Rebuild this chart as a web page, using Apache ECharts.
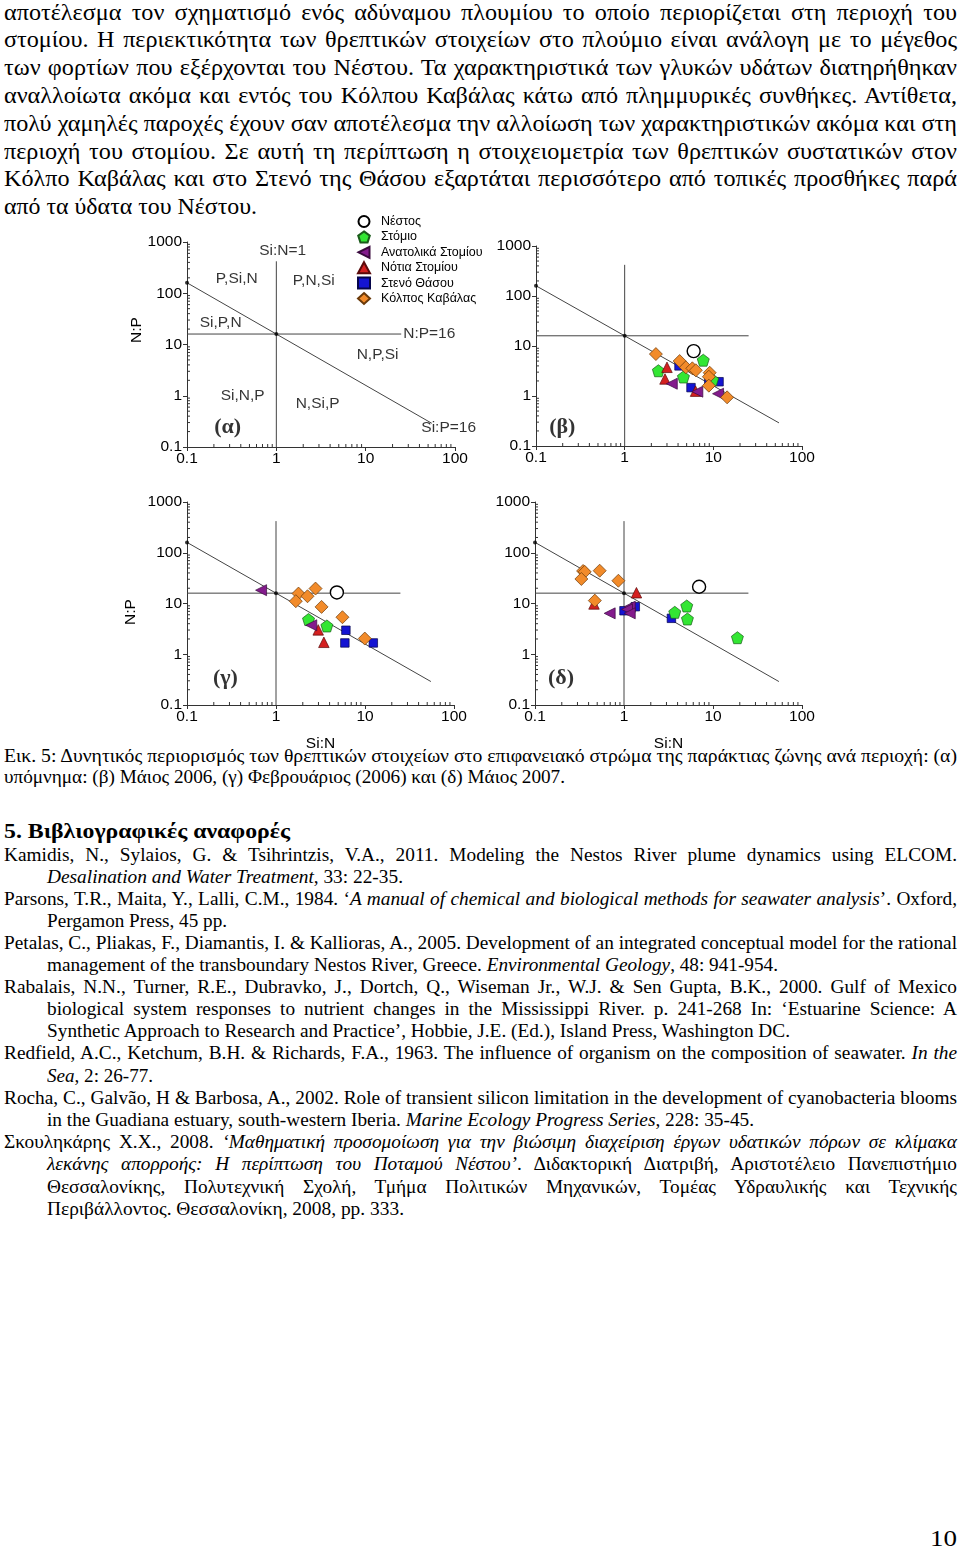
<!DOCTYPE html>
<html>
<head>
<meta charset="utf-8">
<script src="https://cdn.jsdelivr.net/npm/echarts@6/dist/echarts.min.js"></script>
<style>
html,body{margin:0;padding:0;background:#fff;width:960px;height:1551px;overflow:hidden;}
#txt{position:absolute;left:0;top:0;width:960px;height:1551px;z-index:1;}
#chart{position:absolute;left:0;top:0;width:960px;height:1551px;z-index:2;}
.ln{position:absolute;white-space:nowrap;transform-origin:0 0;color:#000;font-family:"Liberation Serif","Times New Roman",serif;line-height:1;}
.p{font-size:23px;}
.c{font-size:18.5px;}
.h{font-size:22px;font-weight:bold;}
.r{font-size:19.5px;}
.pg{font-size:24px;}
</style>
</head>
<body>
<div id="txt"></div>
<div id="chart"></div>
<script>
// ---------------- DATA ----------------
const seriesNames = ['Νέστος','Στόμιο','Ανατολικά Στομίου','Νότια Στομίου','Στενό Θάσου','Κόλπος Καβάλας'];
const xTickLabels = ['0.1','1','10','100'];
const yTickLabels = ['0.1','1','10','100','1000'];

// Panel (β) Μάιος 2006  [Si:N, N:P]
const beta_nestos = [[6.0, 7.9]];
const beta_stomio = [[7.7, 5.2],[2.4, 3.2],[4.6, 2.4],[9.8, 2.1]];
const beta_east   = [[3.4, 1.76],[6.6, 1.22],[11.3, 1.11]];
const beta_south  = [[3.0, 3.75],[2.85, 2.19],[6.3, 1.25]];
const beta_thasos = [[4.1, 4.0],[8.9, 2.09],[11.6, 1.93],[5.6, 1.47]];
const beta_kavala = [[2.25, 6.9],[4.17, 5.0],[4.9, 3.75],[5.8, 3.58],[6.35, 3.27],[9.1, 2.92],[8.9, 2.43],[8.9, 1.61],[14.3, 0.94]];

// Panel (γ) Φεβρουάριος 2006
const gamma_nestos = [[4.83, 16.5]];
const gamma_stomio = [[2.32, 4.83],[3.73, 3.61]];
const gamma_east   = [[0.68, 18.3],[2.49, 3.73]];
const gamma_south  = [[2.98, 3.02],[3.45, 1.72]];
const gamma_thasos = [[6.1, 2.97],[5.94, 1.67],[12.4, 1.67]];
const gamma_kavala = [[1.79, 15.7],[2.26, 13.9],[2.78, 19.7],[1.67, 11.1],[3.25, 8.57],[5.58, 5.37],[9.95, 2.04]];

// Panel (δ) Μάιος 2007
const delta_nestos = [[6.98, 21.4]];
const delta_stomio = [[5.07, 8.93],[3.72, 6.7],[5.16, 4.95],[18.8, 2.12]];
const delta_east   = [[1.16, 8.65],[1.08, 7.67],[1.16, 6.4],[0.69, 6.4]];
const delta_south  = [[1.38, 16.3],[0.46, 9.8]];
const delta_thasos = [[1.34, 8.65],[1.0, 7.2],[3.41, 5.1]];
const delta_kavala = [[0.347, 43.7],[0.362, 42],[0.533, 44.3],[0.332, 30.4],[0.865, 28.1],[0.47, 11.4]];

// Reference lines (Redfield ratios)
const refVertical   = [[1, 0.1],[1, 420]];      // Si:N = 1
const refHorizontal = [[0.1, 16],[25, 16]];     // N:P = 16
const refDiagonal   = [[0.1, 160],[55, 0.29]];  // Si:P = 16
const refDots       = [[1, 16],[0.1, 160]];

// Region labels for panel (α)
const regionLabels    = ['Si:N=1','P,Si,N','P,N,Si','Si,P,N','N,P,Si','Si,N,P','N,Si,P','Si:P=16'];
const regionLabelAt   = [[1.18, 665],[0.36, 196],[2.62, 172],[0.238, 27],[13.6, 6.4],[0.42, 1.0],[2.9, 0.70],[85, 0.236]];
const npLabel = 'N:P=16';
const npLabelAt = [25, 16];

const panelLabels = ['(α)','(β)','(γ)','(δ)'];
const panelLabelAt = [[0.285, 0.247],[0.198, 0.24],[0.27, 0.34],[0.196, 0.34]];

// minor log ticks
const xMinor = [0.2,0.3,0.4,0.5,0.6,0.7,0.8,0.9,2,3,4,5,6,7,8,9,20,30,40,50,60,70,80,90];
const yMinor = xMinor.concat([200,300,400,500,600,700,800,900]);

// ---------------- TEXT ----------------
const textLines = [
 ['p','αποτέλεσμα τον σχηματισμό ενός αδύναμου πλουμίου το οποίο περιορίζεται στη περιοχή του',14,4,957,1],
 ['p','στομίου. Η περιεκτικότητα των θρεπτικών στοιχείων στο πλούμιο είναι ανάλογη με το μέγεθος',41,4,957,1],
 ['p','των φορτίων που εξέρχονται του Νέστου. Τα χαρακτηριστικά των γλυκών υδάτων διατηρήθηκαν',69,4,957,1],
 ['p','αναλλοίωτα ακόμα και εντός του Κόλπου Καβάλας κάτω από πλημμυρικές συνθήκες. Αντίθετα,',97,4,957,1],
 ['p','πολύ χαμηλές παροχές έχουν σαν αποτέλεσμα την αλλοίωση των χαρακτηριστικών ακόμα και στη',125,4,957,1],
 ['p','περιοχή του στομίου. Σε αυτή τη περίπτωση η στοιχειομετρία των θρεπτικών συστατικών στον',153,4,957,1],
 ['p','Κόλπο Καβάλας και στο Στενό της Θάσου εξαρτάται περισσότερο από τοπικές προσθήκες παρά',180,4,957,1],
 ['p','από τα ύδατα του Νέστου.',208,4,257,0],
 ['c','Εικ. 5: Δυνητικός περιορισμός των θρεπτικών στοιχείων στο επιφανειακό στρώμα της παράκτιας ζώνης ανά περιοχή: (α)',757,4,957,1],
 ['c','υπόμνημα: (β) Μάιος 2006, (γ) Φεβρουάριος (2006) και (δ) Μάιος 2007.',778,4,565,0],
 ['h','5. Βιβλιογραφικές αναφορές',832,4,290,0],
 ['r','Kamidis, N., Sylaios, G. &amp; Tsihrintzis, V.A., 2011. Modeling the Nestos River plume dynamics using ELCOM.',856,4,957,1],
 ['r','<i>Desalination and Water Treatment</i>, 33: 22-35.',878,47,403,0],
 ['r','Parsons, T.R., Maita, Y., Lalli, C.M., 1984. ‘<i>A manual of chemical and biological methods for seawater analysis</i>’. Oxford,',900,4,957,1],
 ['r','Pergamon Press, 45 pp.',922,47,227,0],
 ['r','Petalas, C., Pliakas, F., Diamantis, I. &amp; Kallioras, A., 2005. Development of an integrated conceptual model for the rational',944,4,957,1],
 ['r','management of the transboundary Nestos River, Greece. <i>Environmental Geology</i>, 48: 941-954.',966,47,778,0],
 ['r','Rabalais, N.N., Turner, R.E., Dubravko, J., Dortch, Q., Wiseman Jr., W.J. &amp; Sen Gupta, B.K., 2000. Gulf of Mexico',988,4,957,1],
 ['r','biological system responses to nutrient changes in the Mississippi River. p. 241-268 In: ‘Estuarine Science: A',1010,47,957,1],
 ['r','Synthetic Approach to Research and Practice’, Hobbie, J.E. (Ed.), Island Press, Washington DC.',1032,47,790,0],
 ['r','Redfield, A.C., Ketchum, B.H. &amp; Richards, F.A., 1963. The influence of organism on the composition of seawater. <i>In the</i>',1054,4,957,1],
 ['r','<i>Sea</i>, 2: 26-77.',1077,47,153,0],
 ['r','Rocha, C., Galvão, H &amp; Barbosa, A., 2002. Role of transient silicon limitation in the development of cyanobacteria blooms',1099,4,957,1],
 ['r','in the Guadiana estuary, south-western Iberia. <i>Marine Ecology Progress Series</i>, 228: 35-45.',1121,47,754,0],
 ['r','Σκουληκάρης Χ.Χ., 2008. <i>‘Μαθηματική προσομοίωση για την βιώσιμη διαχείριση έργων υδατικών πόρων σε κλίμακα</i>',1143,4,957,1],
 ['r','<i>λεκάνης απορροής: Η περίπτωση του Ποταμού Νέστου’</i>. Διδακτορική Διατριβή, Αριστοτέλειο Πανεπιστήμιο',1165,47,957,1],
 ['r','Θεσσαλονίκης, Πολυτεχνική Σχολή, Τμήμα Πολιτικών Μηχανικών, Τομέας Υδραυλικής και Τεχνικής',1188,47,957,1],
 ['r','Περιβάλλοντος. Θεσσαλονίκη, 2008, pp. 333.',1210,47,404,0],
 ['pg','10',1539,930,957,0]
];
const fsMap = {p:23, c:18.5, h:22, r:19.5, pg:24};
const txt = document.getElementById('txt');
const els = textLines.map(function(L){
  const d = document.createElement('div');
  d.className = 'ln ' + L[0];
  d.innerHTML = L[1];
  const fs = fsMap[L[0]];
  d.style.left = L[3] + 'px';
  d.style.top = (L[2] - 0.56*fs) + 'px';
  txt.appendChild(d);
  return {d:d, L:L, w:d.getBoundingClientRect().width};
});
// per block horizontal scale: the tightest justified line fits with normal spacing
const blockScale = {};
els.forEach(function(e){
  if (!e.L[5]) return;
  const s = (e.L[4] - e.L[3]) / e.w;
  const k = e.L[0];
  blockScale[k] = (k in blockScale) ? Math.min(blockScale[k], s) : s;
});
els.forEach(function(e){
  const target = e.L[4] - e.L[3];
  if (e.L[5]) {
    const s = blockScale[e.L[0]];
    e.d.style.transform = 'scaleX(' + s + ')';
    const n = (e.d.textContent.match(/ /g) || []).length;
    const extra = target - e.w * s;
    if (n && extra > 0) e.d.style.wordSpacing = (extra / n / s) + 'px';
  } else {
    e.d.style.transform = 'scaleX(' + (target / e.w) + ')';
  }
});

// ---------------- CHART ----------------
const chart = echarts.init(document.getElementById('chart'), null, {renderer:'canvas'});
const SANS = '"Liberation Sans", Arial, sans-serif';
const AX = '#333';

const gridBoxes = [
  {left:187, top:242, width:268, height:205},
  {left:536, top:246, width:266, height:200},
  {left:187, top:502, width:267, height:203},
  {left:535, top:502, width:267, height:203}
];
const fmt = function(v){ return String(+(+v).toPrecision(3)); };

const pentagon = 'path://M0,-1 L0.951,-0.309 L0.588,0.809 L-0.588,0.809 L-0.951,-0.309 Z';
const leftTri = 'path://M10,0 L10,10 L0,5 Z';
const styles = {
  'Νέστος':            {symbol:'circle',   size:13, rot:0,  color:'#ffffff', border:'#000', bw:1.4},
  'Στόμιο':            {symbol:pentagon,   size:12, rot:0,  color:'#33e633', border:'#1a5a1a', bw:0.7},
  'Ανατολικά Στομίου': {symbol:leftTri,    size:11, rot:0,  color:'#831b8c', border:'#3a0a3e', bw:0.7},
  'Νότια Στομίου':     {symbol:'triangle', size:10.5, rot:0, color:'#d42020', border:'#5a0a0a', bw:0.7},
  'Στενό Θάσου':       {symbol:'rect',     size:8.5, rot:0, color:'#1414d2', border:'#06064a', bw:0.7},
  'Κόλπος Καβάλας':    {symbol:'diamond',  size:13, rot:0,  color:'#f28b2a', border:'#6a3a0a', bw:0.7}
};

const panelData = [
  null,
  [beta_nestos, beta_stomio, beta_east, beta_south, beta_thasos, beta_kavala],
  [gamma_nestos, gamma_stomio, gamma_east, gamma_south, gamma_thasos, gamma_kavala],
  [delta_nestos, delta_stomio, delta_east, delta_south, delta_thasos, delta_kavala]
];

const grid = [], xAxis = [], yAxis = [], series = [];
gridBoxes.forEach(function(g, i){
  grid.push(Object.assign({containLabel:false, outerBoundsMode:'none'}, g));
  xAxis.push({
    type:'log', logBase:10, min:0.1, max:100, splitNumber:3, gridIndex:i,
    axisLine:{show:true, lineStyle:{color:AX, width:1}},
    axisTick:{show:true, length:4, lineStyle:{color:AX}},
    axisLabel:{show:true, color:'#000', fontSize:15.5, fontFamily:SANS, margin:4,
      formatter:function(v){ const s = fmt(v); return xTickLabels.indexOf(s) >= 0 ? s : ''; },
      showMinLabel:true, showMaxLabel:true},
    splitLine:{show:false},
    name: i >= 2 ? 'Si:N' : '', nameLocation:'middle', nameGap:31,
    nameTextStyle:{color:'#000', fontSize:15.5, fontFamily:SANS}
  });
  yAxis.push({
    type:'log', logBase:10, min:0.1, max:1000, splitNumber:4, gridIndex:i,
    axisLine:{show:true, lineStyle:{color:AX, width:1}},
    axisTick:{show:true, length:4, lineStyle:{color:AX}},
    axisLabel:{show:true, color:'#000', fontSize:15.5, fontFamily:SANS, margin:5,
      formatter:function(v){ const s = fmt(v); return yTickLabels.indexOf(s) >= 0 ? s : ''; },
      showMinLabel:true, showMaxLabel:true},
    splitLine:{show:false}
  });
  // minor ticks
  series.push({
    type:'custom', xAxisIndex:i, yAxisIndex:i, silent:true, clip:false, z:1,
    data: xMinor.map(function(v){ return [v]; }),
    renderItem:function(p, api){
      const pt = api.coord([api.value(0), 0.1]);
      return {type:'line', shape:{x1:pt[0], y1:pt[1], x2:pt[0], y2:pt[1]-3}, style:{stroke:AX, lineWidth:1}};
    }
  });
  series.push({
    type:'custom', xAxisIndex:i, yAxisIndex:i, silent:true, clip:false, z:1,
    data: yMinor.map(function(v){ return [v]; }),
    renderItem:function(p, api){
      const pt = api.coord([0.1, api.value(0)]);
      return {type:'line', shape:{x1:pt[0], y1:pt[1], x2:pt[0]+3, y2:pt[1]}, style:{stroke:AX, lineWidth:1}};
    }
  });
  // reference lines
  [refVertical, refHorizontal, refDiagonal].forEach(function(d){
    series.push({type:'line', xAxisIndex:i, yAxisIndex:i, data:d, symbol:'none', silent:true, z:2,
      lineStyle:{color:'#444', width:1}, animation:false});
  });
  series.push({type:'scatter', xAxisIndex:i, yAxisIndex:i, data:refDots, symbol:'circle', symbolSize:4,
    itemStyle:{color:'#000'}, silent:true, z:3, animation:false});
  // panel label
  series.push({type:'scatter', xAxisIndex:i, yAxisIndex:i, symbolSize:0, silent:true, z:5, animation:false,
    data:[{value:panelLabelAt[i], name:panelLabels[i]}],
    label:{show:true, position:'inside', formatter:'{b}', color:'#000', fontSize:22, fontWeight:'bold',
      fontFamily:'"Liberation Serif", "Times New Roman", serif'}});
  // data markers
  if (panelData[i]) {
    const order = [4, 1, 3, 2, 5, 0];
    order.forEach(function(k){
      const nm = seriesNames[k], st = styles[nm];
      series.push({type:'scatter', name:nm, xAxisIndex:i, yAxisIndex:i, data:panelData[i][k],
        symbol:st.symbol, symbolSize:st.size, symbolRotate:st.rot, z:4, animation:false,
        itemStyle:{color:st.color, borderColor:st.border, borderWidth:st.bw, opacity:1}});
    });
  }
});
// legend-only series in panel α
seriesNames.forEach(function(nm){
  const st = styles[nm];
  series.push({type:'scatter', name:nm, xAxisIndex:0, yAxisIndex:0, data:[],
    symbol:st.symbol, symbolSize:st.size, symbolRotate:st.rot,
    itemStyle:{color:st.color, borderColor:st.border, borderWidth:st.bw}});
});
// region labels in panel α
series.push({type:'scatter', xAxisIndex:0, yAxisIndex:0, symbolSize:0, silent:true, z:5, animation:false,
  data: regionLabels.map(function(t, j){ return {value:regionLabelAt[j], name:t}; }),
  label:{show:true, position:'inside', formatter:'{b}', color:'#000', fontSize:15.5, fontFamily:SANS}});
series.push({type:'scatter', xAxisIndex:0, yAxisIndex:0, symbolSize:0, silent:true, z:5, animation:false,
  data:[{value:npLabelAt, name:npLabel}],
  label:{show:true, position:'right', distance:2, formatter:'{b}', color:'#000', fontSize:15.5, fontFamily:SANS}});

const option = {
  backgroundColor:'transparent',
  animation:false,
  textStyle:{fontFamily:SANS},
  grid:grid, xAxis:xAxis, yAxis:yAxis, series:series,
  legend:{
    data:seriesNames.map(function(nm){ return {name:nm, icon:styles[nm].symbol}; }),
    orient:'vertical', left:352, top:210, itemGap:2.4, padding:5,
    itemWidth:12, itemHeight:11, selectedMode:false,
    textStyle:{color:'#000', fontSize:12.5, fontFamily:SANS, lineHeight:13, padding:[0,0,0,6]}
  },
  graphic:[
    {type:'text', x:137, y:330, rotation:Math.PI/2,
      style:{text:'N:P', fill:'#000', font:'15.5px "Liberation Sans", Arial, sans-serif', textAlign:'center', textVerticalAlign:'middle'}},
    {type:'text', x:131, y:612, rotation:Math.PI/2,
      style:{text:'N:P', fill:'#000', font:'15.5px "Liberation Sans", Arial, sans-serif', textAlign:'center', textVerticalAlign:'middle'}}
  ]
};
chart.setOption(option);
</script>
</body>
</html>
